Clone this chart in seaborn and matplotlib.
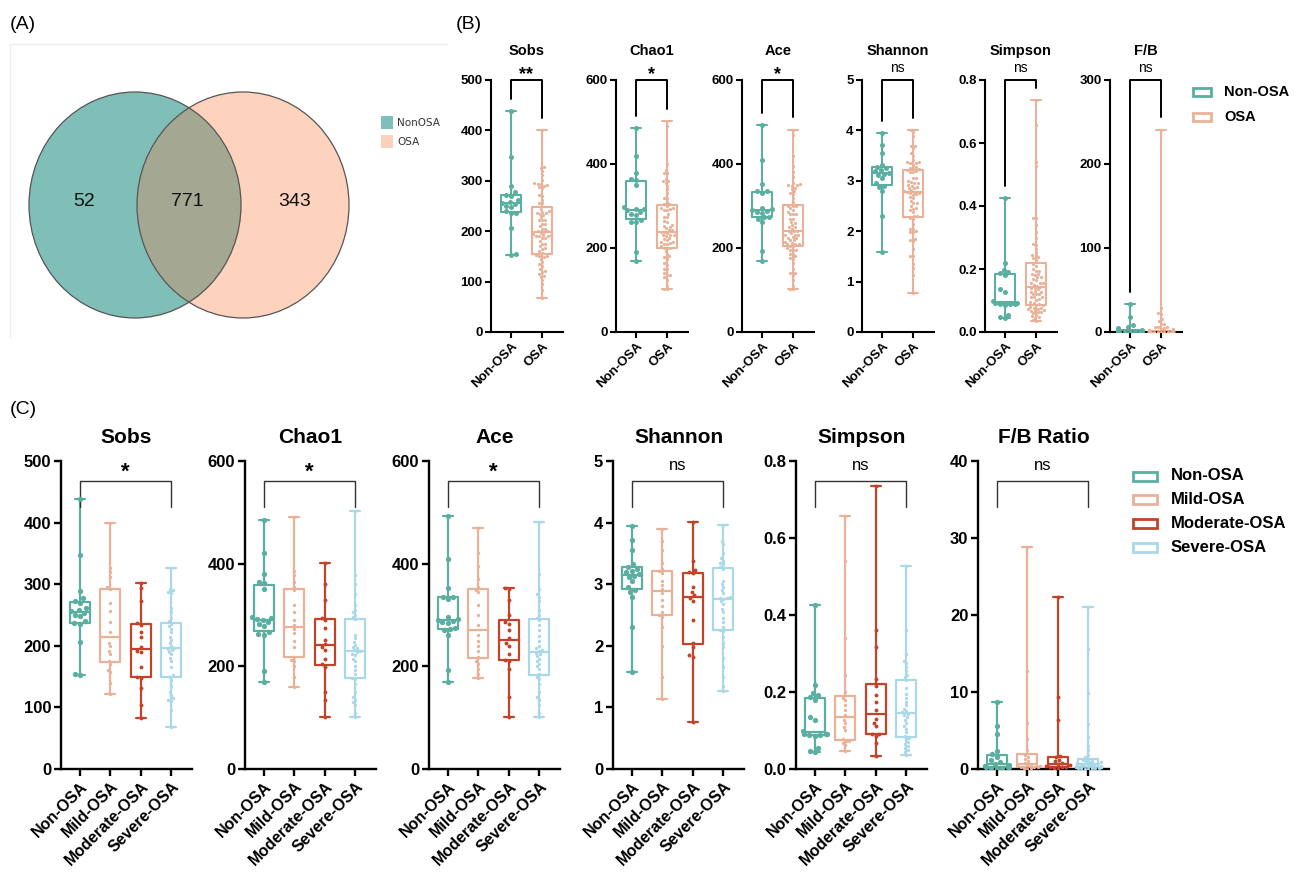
import warnings
import numpy as np
import pandas as pd
import matplotlib
matplotlib.use('Agg')
import matplotlib.pyplot as plt
import matplotlib.transforms as mtransforms
from matplotlib.patches import Ellipse, Rectangle
from matplotlib.ticker import FormatStrFormatter
import seaborn as sns

warnings.filterwarnings('ignore')

# ---------------- data ----------------
venn_sets = ['NonOSA', 'OSA']
venn_counts = [52, 771, 343]   # only NonOSA, shared, only OSA

groups_c = ['Non-OSA', 'Mild-OSA', 'Moderate-OSA', 'Severe-OSA']
groups_b = ['Non-OSA', 'OSA']

sobs_non = [439, 347, 289, 277, 272, 270, 262, 258, 256, 254, 250, 248, 240, 237, 236, 206, 155, 152]
sobs_mild = [400, 326, 320, 312, 295, 292, 269, 256, 239, 222, 205, 200, 191, 186, 175, 170, 161, 157, 139, 121]
sobs_mod = [302, 294, 272, 237, 234, 223, 215, 198, 192, 190, 166, 150, 148, 131, 104, 83]
sobs_sev = [327, 293, 290, 288, 285, 262, 255, 245, 240, 236, 232, 228, 222, 215, 210, 205, 200, 197,
            195, 193, 190, 186, 180, 175, 165, 152, 150, 145, 135, 125, 120, 115, 112, 110, 95, 68]

chao1_non = [486, 420, 379, 365, 362, 350, 297, 294, 292, 290, 286, 282, 279, 266, 263, 261, 190, 169]
chao1_mild = [490, 385, 378, 365, 355, 348, 320, 305, 290, 280, 273, 265, 250, 238, 219, 212, 210, 200, 180, 160]
chao1_mod = [401, 360, 330, 295, 290, 275, 252, 244, 238, 232, 215, 205, 199, 150, 135, 102]
chao1_sev = [502, 378, 360, 340, 320, 310, 305, 300, 296, 292, 262, 255, 248, 242, 238, 235, 232, 230,
             228, 225, 222, 215, 210, 200, 192, 185, 178, 175, 165, 150, 140, 135, 130, 125, 110, 102]

ace_non = [492, 409, 353, 336, 335, 332, 296, 293, 291, 289, 286, 284, 274, 273, 270, 262, 193, 169]
ace_mild = [470, 420, 395, 370, 355, 348, 344, 320, 300, 280, 262, 250, 240, 230, 218, 210, 205, 195, 185, 177]
ace_mod = [352, 350, 330, 300, 286, 282, 270, 255, 246, 240, 225, 212, 210, 195, 140, 102]
ace_sev = [482, 380, 350, 340, 335, 328, 310, 300, 295, 290, 280, 270, 260, 250, 240, 235, 232, 230,
           226, 224, 220, 215, 210, 205, 200, 195, 185, 180, 175, 165, 150, 140, 135, 125, 110, 102]

shannon_non = [3.95, 3.71, 3.55, 3.32, 3.28, 3.25, 3.22, 3.19, 3.16, 3.14, 3.12, 3.05, 2.96, 2.90, 2.88, 2.80, 2.31, 1.58]
shannon_mild = [3.89, 3.70, 3.55, 3.35, 3.25, 3.21, 3.18, 3.05, 2.98, 2.92, 2.86, 2.75, 2.65, 2.55, 2.50, 2.47,
                2.30, 2.00, 1.50, 1.14]
shannon_mod = [4.01, 3.37, 3.23, 3.20, 3.18, 2.95, 2.88, 2.82, 2.78, 2.73, 2.42, 2.05, 1.98, 1.85, 1.82, 0.77]
shannon_sev = [3.96, 3.70, 3.65, 3.50, 3.42, 3.38, 3.35, 3.32, 3.28, 3.25, 3.05, 3.00, 2.95, 2.90, 2.85, 2.80,
               2.78, 2.77, 2.76, 2.72, 2.68, 2.60, 2.55, 2.45, 2.38, 2.30, 2.26, 2.24, 2.15, 2.05, 1.98, 1.80,
               1.65, 1.50, 1.35, 1.27]

simpson_non = [0.425, 0.219, 0.198, 0.192, 0.186, 0.180, 0.135, 0.128, 0.098, 0.092, 0.091, 0.090, 0.089,
               0.088, 0.086, 0.055, 0.048, 0.043]
simpson_mild = [0.657, 0.539, 0.340, 0.245, 0.200, 0.185, 0.180, 0.167, 0.154, 0.141, 0.128, 0.120, 0.110,
                0.102, 0.077, 0.074, 0.072, 0.068, 0.063, 0.048]
simpson_mod = [0.735, 0.362, 0.316, 0.235, 0.215, 0.193, 0.174, 0.154, 0.130, 0.120, 0.111, 0.092, 0.090,
               0.085, 0.067, 0.035]
simpson_sev = [0.526, 0.362, 0.300, 0.280, 0.275, 0.265, 0.255, 0.245, 0.238, 0.230, 0.210, 0.195, 0.185,
               0.175, 0.165, 0.155, 0.150, 0.147, 0.143, 0.140, 0.135, 0.128, 0.120, 0.112, 0.105, 0.095,
               0.085, 0.080, 0.077, 0.070, 0.065, 0.060, 0.055, 0.050, 0.045, 0.037]

fb_non = [8.7, 5.6, 4.5, 2.3, 1.9, 1.6, 1.2, 0.9, 0.7, 0.5, 0.4, 0.35, 0.3, 0.25, 0.2, 0.1, 0.08, 0.05]
fb_mild = [28.8, 12.7, 6.0, 3.9, 2.5, 1.8, 1.6, 1.3, 1.0, 0.8, 0.6, 0.5, 0.4, 0.35, 0.3, 0.25, 0.2, 0.15, 0.1, 0.05]
fb_mod = [22.4, 9.3, 6.3, 1.7, 1.5, 1.2, 1.0, 0.8, 0.6, 0.5, 0.4, 0.3, 0.25, 0.2, 0.1, 0.05]
fb_sev = [21.1, 15.6, 9.9, 5.8, 4.2, 3.0, 2.5, 1.8, 1.5, 1.3, 1.2, 1.1, 1.0, 0.9, 0.85, 0.8, 0.7, 0.65, 0.6,
          0.55, 0.5, 0.45, 0.4, 0.35, 0.3, 0.28, 0.25, 0.22, 0.2, 0.18, 0.15, 0.12, 0.1, 0.08, 0.05, 0.03]
# panel B F/B shows a few extra high values not visible in panel C
fb_b_non_extra = [33.0, 18.0]
fb_b_osa_extra = [241.0]

metrics = ['Sobs', 'Chao1', 'Ace', 'Shannon', 'Simpson', 'F/B']
c_titles = ['Sobs', 'Chao1', 'Ace', 'Shannon', 'Simpson', 'F/B Ratio']
c_values = {
    'Sobs': [sobs_non, sobs_mild, sobs_mod, sobs_sev],
    'Chao1': [chao1_non, chao1_mild, chao1_mod, chao1_sev],
    'Ace': [ace_non, ace_mild, ace_mod, ace_sev],
    'Shannon': [shannon_non, shannon_mild, shannon_mod, shannon_sev],
    'Simpson': [simpson_non, simpson_mild, simpson_mod, simpson_sev],
    'F/B': [fb_non, fb_mild, fb_mod, fb_sev],
}
b_values = {m: [v[0], v[1] + v[2] + v[3]] for m, v in c_values.items()}
b_values['F/B'] = [fb_non + fb_b_non_extra, fb_mild + fb_mod + fb_sev + fb_b_osa_extra]

b_sig = ['**', '*', '*', 'ns', 'ns', 'ns']
c_sig = ['*', '*', '*', 'ns', 'ns', 'ns']

b_ylim = [500, 600, 600, 5, 0.8, 300]
b_yticks = [[0, 100, 200, 300, 400, 500], [0, 200, 400, 600], [0, 200, 400, 600],
            [0, 1, 2, 3, 4, 5], [0, 0.2, 0.4, 0.6, 0.8], [0, 100, 200, 300]]
c_ylim = [500, 600, 600, 5, 0.8, 40]
c_yticks = [[0, 100, 200, 300, 400, 500], [0, 200, 400, 600], [0, 200, 400, 600],
            [0, 1, 2, 3, 4, 5], [0, 0.2, 0.4, 0.6, 0.8], [0, 10, 20, 30, 40]]

colors_c = ['#5aafa1', '#e9b298', '#c2432a', '#a9d8e8']
colors_b = ['#5aafa1', '#e9b298']

# ---------------- figure ----------------
sns.set_theme(style='ticks')
plt.rcParams['font.family'] = ['Liberation Sans', 'DejaVu Sans']
plt.rcParams['text.color'] = 'black'
plt.rcParams['axes.titlecolor'] = 'black'
plt.rcParams['xtick.color'] = 'black'
plt.rcParams['ytick.color'] = 'black'

W, H = 1297, 876
fig = plt.figure(figsize=(W / 100, H / 100), dpi=100)


def px_axes(x0, y0, w, h):
    return fig.add_axes([x0 / W, 1 - (y0 + h) / H, w / W, h / H])


def fig_xy(x, y):
    return x / W, 1 - y / H


def box_panel(ax, groups, values, colors, sizes, lw, width):
    df = pd.DataFrame({'group': np.repeat(groups, [len(v) for v in values]),
                       'value': np.concatenate([np.asarray(v, float) for v in values])})
    sns.boxplot(data=df, x='group', y='value', hue='group', order=groups, hue_order=groups,
                palette=colors, fill=False, whis=(0, 100), width=width, linewidth=lw,
                saturation=1, legend=False, ax=ax)
    for g, c, s in zip(groups, colors, sizes):
        sns.swarmplot(data=df[df['group'] == g], x='group', y='value', order=groups,
                      color=c, size=s, linewidth=0, ax=ax, zorder=3)
    return df


def style_axes(ax, groups, xlim, ymax, yticks, spw, ytick_fs, xtick_fs, ticklen):
    ax.set_xlim(*xlim)
    ax.set_ylim(0, ymax)
    ax.set_yticks(yticks)
    if ymax < 1:
        ax.yaxis.set_major_formatter(FormatStrFormatter('%.1f'))
    ax.set_xticks(range(len(groups)))
    ax.set_xticklabels(groups, rotation=45, ha='right', rotation_mode='anchor',
                       fontweight='bold', fontsize=xtick_fs, color='black')
    for lab in ax.get_yticklabels():
        lab.set_fontweight('bold')
        lab.set_fontsize(ytick_fs)
        lab.set_color('black')
    ax.set_xlabel('')
    ax.set_ylabel('')
    sns.despine(ax=ax)
    for sp in ['left', 'bottom']:
        ax.spines[sp].set_linewidth(spw)
        ax.spines[sp].set_color('black')
    ax.tick_params(width=spw, length=ticklen, color='black', pad=2)


# ---------------- panel A: Venn ----------------
ax_a = px_axes(0, 40, 455, 305)
ax_a.set_xlim(0, 455)
ax_a.set_ylim(345, 40)
ax_a.axis('off')
ax_a.plot([10, 447], [44, 44], color='#eeeeee', lw=1)
ax_a.plot([10, 10], [44, 337], color='#eeeeee', lw=1)

left = Ellipse((135, 205), 212, 226, facecolor='#80bfb8', edgecolor='none')
right = Ellipse((243, 205), 212, 226, facecolor='#fdd3bd', edgecolor='none')
ax_a.add_patch(left)
ax_a.add_patch(right)
overlap = Ellipse((243, 205), 212, 226, facecolor='#a4a893', edgecolor='none')
ax_a.add_patch(overlap)
overlap.set_clip_path(left)
ax_a.add_patch(Ellipse((135, 205), 212, 226, facecolor='none', edgecolor='#555555', lw=0.9))
ax_a.add_patch(Ellipse((243, 205), 212, 226, facecolor='none', edgecolor='#555555', lw=0.9))
for xpos, cnt in zip([84, 187, 295], venn_counts):
    ax_a.text(xpos, 201, str(cnt), ha='center', va='center', fontsize=14, color='#111111')
for i, (name, col) in enumerate(zip(venn_sets, ['#7fbfba', '#fbd1bc'])):
    y0 = 116 + i * 19
    ax_a.add_patch(Rectangle((381, y0), 12, 13, facecolor=col, edgecolor='none'))
    ax_a.text(397, y0 + 7, name, ha='left', va='center', fontsize=7.5,
              family='DejaVu Sans', color='#333333')

# ---------------- panel B ----------------
b_left = [491, 616, 742, 862, 985, 1110]
for i, m in enumerate(metrics):
    ax = px_axes(b_left[i], 80, 72, 252)
    box_panel(ax, groups_b, b_values[m], colors_b, [3.6, 2.3], 1.5, 0.65)
    style_axes(ax, groups_b, (-0.645, 1.68), b_ylim[i], b_yticks[i], 1.5, 9.5, 9.5, 4)
    ax.set_title(metrics[i], fontsize=10.5, fontweight='bold', pad=18)
    trans = mtransforms.blended_transform_factory(ax.transData, ax.transAxes)
    legs = [max(v) / b_ylim[i] + 0.048 for v in b_values[m]]
    ax.plot([0, 0, 1, 1], [legs[0], 1.0, 1.0, legs[1]], transform=trans,
            color='black', lw=1.4, clip_on=False)
    if b_sig[i] == 'ns':
        ax.text(0.5, 1.03, 'ns', transform=trans, ha='center', va='baseline', fontsize=10)
    else:
        ax.text(0.5, 1.005, b_sig[i], transform=trans, ha='center', va='baseline',
                fontsize=13, fontweight='bold')

for i, (g, c) in enumerate(zip(groups_b, colors_b)):
    y = 92 + i * 25
    x0, y0 = fig_xy(1193, y + 4)
    fig.add_artist(Rectangle((x0, y0), 18 / W, 8 / H, transform=fig.transFigure,
                             facecolor='none', edgecolor=c, lw=2))
    fig.text(*fig_xy(1224, y), g, ha='left', va='center', fontsize=10.5, fontweight='bold')

# ---------------- panel C ----------------
c_left = [61, 245, 429, 613, 796, 978]
for i, m in enumerate(metrics):
    ax = px_axes(c_left[i], 461, 131, 308)
    box_panel(ax, groups_c, c_values[m], colors_c, [3.8, 2.4, 2.8, 2.4], 1.6, 0.66)
    style_axes(ax, groups_c, (-0.62, 3.675), c_ylim[i], c_yticks[i], 1.7, 12, 11.5, 5)
    ax.set_title(c_titles[i], fontsize=15, fontweight='bold', pad=13)
    trans = mtransforms.blended_transform_factory(ax.transData, ax.transAxes)
    ax.plot([0, 0, 3, 3], [0.85, 0.935, 0.935, 0.85], transform=trans,
            color='#333333', lw=1.0, clip_on=False)
    if c_sig[i] == 'ns':
        ax.text(1.5, 0.972, 'ns', transform=trans, ha='center', va='baseline', fontsize=12)
    else:
        ax.text(1.5, 0.945, c_sig[i], transform=trans, ha='center', va='baseline',
                fontsize=16, fontweight='bold')

for i, (g, c) in enumerate(zip(groups_c, colors_c)):
    y = 476 + i * 23.7
    x0, y0 = fig_xy(1133, y + 4.5)
    fig.add_artist(Rectangle((x0, y0), 24 / W, 9 / H, transform=fig.transFigure,
                             facecolor='none', edgecolor=c, lw=2))
    fig.text(*fig_xy(1171, y), g, ha='left', va='center', fontsize=12, fontweight='bold')

# panel letters
fig.text(*fig_xy(10, 29), '(A)', fontsize=14, va='baseline')
fig.text(*fig_xy(456, 29), '(B)', fontsize=14, va='baseline')
fig.text(*fig_xy(10, 414), '(C)', fontsize=14, va='baseline')

fig.savefig('out.png', dpi=100, facecolor='white')
